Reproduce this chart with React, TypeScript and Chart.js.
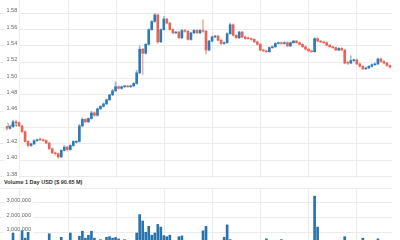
import React, { useEffect, useRef } from 'react';
import { Chart, registerables } from 'chart.js';

Chart.register(...registerables);

const opens = [
  1.441, 1.439, 1.441, 1.447, 1.446, 1.442, 1.435, 1.423, 1.418, 1.420,
  1.424, 1.426, 1.425, 1.424, 1.421, 1.414, 1.409, 1.408, 1.404, 1.412,
  1.416, 1.413, 1.418, 1.422, 1.423, 1.442, 1.450, 1.447, 1.451, 1.458,
  1.455, 1.463, 1.466, 1.469, 1.474, 1.480, 1.485, 1.490, 1.488, 1.490,
  1.491, 1.490, 1.491, 1.494, 1.507, 1.536, 1.531, 1.542, 1.560, 1.570,
  1.578, 1.545, 1.560, 1.573, 1.568, 1.560, 1.556, 1.557, 1.550, 1.559,
  1.558, 1.548, 1.556, 1.559, 1.556, 1.559, 1.558, 1.535, 1.546, 1.551,
  1.552, 1.547, 1.543, 1.544, 1.555, 1.566, 1.553, 1.550, 1.557, 1.551,
  1.550, 1.549, 1.548, 1.545, 1.542, 1.535, 1.534, 1.533, 1.538, 1.539,
  1.543, 1.544, 1.543, 1.544, 1.540, 1.544, 1.546, 1.544, 1.542, 1.539,
  1.536, 1.534, 1.533, 1.549, 1.546, 1.545, 1.544, 1.541, 1.539, 1.538,
  1.535, 1.537, 1.535, 1.520, 1.519, 1.522, 1.523, 1.518, 1.515, 1.512,
  1.513, 1.515, 1.517, 1.518, 1.524, 1.521, 1.519, 1.516,
];
const highs = [
  1.442, 1.443, 1.449, 1.449, 1.447, 1.443, 1.436, 1.424, 1.421, 1.425,
  1.426, 1.427, 1.426, 1.425, 1.422, 1.415, 1.410, 1.409, 1.413, 1.418,
  1.417, 1.419, 1.424, 1.424, 1.444, 1.452, 1.451, 1.452, 1.460, 1.459,
  1.464, 1.467, 1.470, 1.475, 1.481, 1.487, 1.496, 1.491, 1.491, 1.492,
  1.492, 1.492, 1.495, 1.510, 1.540, 1.537, 1.543, 1.561, 1.571, 1.580,
  1.579, 1.561, 1.576, 1.574, 1.569, 1.561, 1.558, 1.558, 1.560, 1.560,
  1.559, 1.557, 1.560, 1.560, 1.560, 1.572, 1.559, 1.547, 1.552, 1.553,
  1.553, 1.548, 1.545, 1.556, 1.568, 1.567, 1.554, 1.558, 1.558, 1.552,
  1.551, 1.550, 1.549, 1.546, 1.543, 1.536, 1.535, 1.539, 1.540, 1.544,
  1.545, 1.545, 1.545, 1.545, 1.545, 1.547, 1.547, 1.545, 1.543, 1.540,
  1.537, 1.535, 1.550, 1.550, 1.547, 1.546, 1.545, 1.542, 1.540, 1.539,
  1.538, 1.538, 1.536, 1.521, 1.528, 1.524, 1.524, 1.519, 1.516, 1.514,
  1.516, 1.518, 1.519, 1.525, 1.525, 1.522, 1.520, 1.517,
];
const lows = [
  1.437, 1.438, 1.440, 1.445, 1.441, 1.434, 1.422, 1.416, 1.417, 1.419,
  1.423, 1.424, 1.423, 1.420, 1.413, 1.408, 1.406, 1.402, 1.403, 1.411,
  1.411, 1.412, 1.417, 1.421, 1.422, 1.441, 1.446, 1.446, 1.450, 1.454,
  1.454, 1.462, 1.465, 1.468, 1.473, 1.479, 1.484, 1.487, 1.487, 1.489,
  1.489, 1.489, 1.490, 1.493, 1.506, 1.505, 1.530, 1.541, 1.559, 1.569,
  1.543, 1.544, 1.559, 1.567, 1.559, 1.555, 1.555, 1.549, 1.549, 1.557,
  1.547, 1.547, 1.555, 1.555, 1.555, 1.557, 1.530, 1.534, 1.545, 1.550,
  1.546, 1.542, 1.542, 1.543, 1.554, 1.552, 1.549, 1.549, 1.550, 1.548,
  1.548, 1.547, 1.544, 1.541, 1.534, 1.533, 1.532, 1.532, 1.537, 1.538,
  1.542, 1.542, 1.542, 1.539, 1.539, 1.543, 1.543, 1.541, 1.538, 1.535,
  1.533, 1.532, 1.532, 1.545, 1.544, 1.543, 1.540, 1.538, 1.537, 1.534,
  1.534, 1.534, 1.518, 1.517, 1.518, 1.521, 1.517, 1.514, 1.511, 1.511,
  1.512, 1.514, 1.516, 1.517, 1.520, 1.518, 1.515, 1.513,
];
const closes = [
  1.439, 1.441, 1.447, 1.446, 1.442, 1.435, 1.423, 1.418, 1.420, 1.424,
  1.425, 1.425, 1.424, 1.421, 1.414, 1.409, 1.408, 1.404, 1.412, 1.416,
  1.413, 1.418, 1.423, 1.423, 1.442, 1.450, 1.447, 1.451, 1.458, 1.455,
  1.463, 1.466, 1.469, 1.474, 1.480, 1.485, 1.490, 1.488, 1.490, 1.491,
  1.490, 1.491, 1.494, 1.507, 1.536, 1.531, 1.542, 1.560, 1.570, 1.578,
  1.545, 1.560, 1.573, 1.568, 1.560, 1.556, 1.557, 1.550, 1.559, 1.558,
  1.548, 1.556, 1.559, 1.556, 1.559, 1.558, 1.535, 1.546, 1.551, 1.552,
  1.547, 1.543, 1.544, 1.555, 1.566, 1.553, 1.550, 1.557, 1.551, 1.549,
  1.549, 1.548, 1.545, 1.542, 1.535, 1.534, 1.533, 1.538, 1.539, 1.543,
  1.544, 1.543, 1.544, 1.540, 1.544, 1.546, 1.544, 1.542, 1.539, 1.536,
  1.534, 1.533, 1.549, 1.546, 1.545, 1.544, 1.541, 1.539, 1.538, 1.535,
  1.537, 1.535, 1.519, 1.519, 1.522, 1.523, 1.518, 1.515, 1.512, 1.513,
  1.515, 1.517, 1.518, 1.524, 1.521, 1.519, 1.516, 1.514,
];
const volumes = [
  350000, 400000, 950000, 300000, 250000, 1100000, 600000, 1000000, 300000, 200000,
  250000, 300000, 200000, 350000, 900000, 300000, 250000, 400000, 660000, 300000,
  200000, 950000, 300000, 250000, 730000, 1070000, 600000, 800000, 1070000, 600000,
  300000, 500000, 300000, 660000, 700000, 600000, 650000, 550000, 300000, 500000,
  300000, 250000, 400000, 950000, 2200000, 1760000, 1000000, 1400000, 800000, 950000,
  1530000, 1350000, 770000, 700000, 800000, 400000, 350000, 700000, 750000, 300000,
  350000, 250000, 300000, 200000, 300000, 1100000, 1400000, 400000, 300000, 250000,
  300000, 200000, 660000, 1500000, 500000, 300000, 250000, 300000, 200000, 250000,
  300000, 200000, 250000, 300000, 350000, 300000, 550000, 300000, 200000, 250000,
  300000, 500000, 200000, 250000, 300000, 200000, 250000, 300000, 200000, 300000,
  350000, 300000, 3450000, 1350000, 300000, 250000, 200000, 300000, 250000, 200000,
  300000, 350000, 700000, 400000, 300000, 250000, 300000, 350000, 600000, 300000,
  250000, 300000, 350000, 550000, 300000, 250000, 300000, 200000,
];

const priceTicks = [1.38, 1.4, 1.42, 1.44, 1.46, 1.48, 1.5, 1.52, 1.54, 1.56, 1.58];
const volumeTicks = [1000000, 2000000, 3000000, 4000000];
const hiddenVolumeTick = 4000000;
const gridTicks = [4.3, 20.25, 36.2, 52.15, 68.1, 84.05, 100.0, 115.95];
const X_MIN = -2.32;
const X_MAX = 127.67;
const PRICE_MIN = 1.37816;
const PRICE_MAX = 1.5963;
const VOLUME_MAX = 4000000;
const volumeTitle = 'Volume 1 Day USD ($ 90.65 M)';

const UP = '#2c7bb6';
const DOWN = '#e66455';
const UP_WICK = 'rgba(44,123,182,0.5)';
const DOWN_WICK = 'rgba(230,100,85,0.5)';
const VOL = '#2a72aa';
const GRID = '#ebebeb';
const FONT = { size: 5.5, family: "'Liberation Sans', Arial, sans-serif" };

function zeroPad(s: any) {
  s.width = 0;
  s.paddingTop = 0;
  s.paddingBottom = 0;
  s.paddingLeft = 0;
  s.paddingRight = 0;
}

function xScale() {
  return {
    type: 'linear' as const,
    min: X_MIN,
    max: X_MAX,
    offset: false,
    afterBuildTicks: (s: any) => {
      s.ticks = gridTicks.map((v) => ({ value: v }));
    },
    afterFit: (s: any) => {
      s.height = 0;
      s.paddingLeft = 0;
      s.paddingRight = 0;
      s.paddingTop = 0;
      s.paddingBottom = 0;
    },
    ticks: { display: false },
    grid: { color: GRID, drawTicks: false, offset: false },
    border: { display: false },
  };
}

function yTicks(extra: any) {
  return {
    mirror: true,
    padding: 6.5,
    labelOffset: -2.5,
    font: FONT,
    color: '#666',
    showLabelBackdrop: true,
    backdropColor: '#ffffff',
    backdropPadding: { top: 1, bottom: 1, left: 2, right: 2 },
    ...extra,
  };
}

export default function App() {
  const priceRef = useRef<HTMLCanvasElement>(null);
  const volRef = useRef<HTMLCanvasElement>(null);

  useEffect(() => {
    const idx = closes.map((_, i) => i);
    const isUp = (i: number) => closes[i] >= opens[i];
    const priceChart = new Chart(priceRef.current!, {
      type: 'bar',
      data: {
        datasets: [
          {
            data: idx.map((i) => ({ x: i, y: [lows[i], highs[i]] })) as any,
            backgroundColor: idx.map((i) => (isUp(i) ? UP_WICK : DOWN_WICK)),
            barThickness: 1,
            grouped: false,
            order: 2,
          },
          {
            data: idx.map((i) => ({ x: i, y: [opens[i], closes[i]] })) as any,
            backgroundColor: idx.map((i) => (isUp(i) ? UP : DOWN)),
            barThickness: 2,
            grouped: false,
            order: 1,
          },
        ],
      },
      options: {
        responsive: false,
        maintainAspectRatio: false,
        animation: false,
        layout: { padding: { left: 0, right: 8, top: 0, bottom: 0 } },
        plugins: { legend: { display: false }, tooltip: { enabled: false } },
        scales: {
          x: xScale() as any,
          y: {
            type: 'linear',
            min: PRICE_MIN,
            max: PRICE_MAX,
            afterBuildTicks: (s: any) => {
              s.ticks = priceTicks.map((v) => ({ value: v }));
            },
            afterFit: zeroPad,
            ticks: yTicks({ callback: (v: any) => Number(v).toFixed(2) }),
            grid: { color: GRID, drawTicks: false },
            border: { display: false },
          } as any,
        },
      },
    });

    const volChart = new Chart(volRef.current!, {
      type: 'bar',
      data: {
        datasets: [
          {
            data: idx.map((i) => ({ x: i, y: volumes[i] })) as any,
            backgroundColor: VOL,
            barThickness: 2,
            grouped: false,
          },
        ],
      },
      options: {
        responsive: false,
        maintainAspectRatio: false,
        animation: false,
        layout: { padding: { left: 0, right: 8, top: 10, bottom: 0 } },
        plugins: { legend: { display: false }, tooltip: { enabled: false } },
        scales: {
          x: xScale() as any,
          y: {
            type: 'linear',
            min: 0,
            max: VOLUME_MAX,
            afterBuildTicks: (s: any) => {
              s.ticks = volumeTicks.map((v) => ({ value: v }));
            },
            afterFit: zeroPad,
            ticks: yTicks({
              backdropColor: (ctx: any) =>
                ctx.tick && ctx.tick.value === hiddenVolumeTick ? 'rgba(0,0,0,0)' : '#ffffff',
              callback: (v: any) =>
                Number(v) === hiddenVolumeTick ? '' : Number(v).toLocaleString('en-US'),
            }),
            grid: { color: GRID, drawTicks: false },
            border: { display: false },
          } as any,
        },
      },
    });

    return () => {
      priceChart.destroy();
      volChart.destroy();
    };
  }, []);

  return (
    <div
      style={{
        position: 'fixed',
        top: 0,
        left: 0,
        width: 400,
        height: 240,
        overflow: 'hidden',
        background: '#ffffff',
      }}
    >
      <canvas
        ref={priceRef}
        width={400}
        height={178}
        style={{ position: 'absolute', top: 0, left: 0, width: 400, height: 178 }}
      />
      <div
        style={{
          position: 'absolute',
          top: 179,
          left: 4,
          font: "bold 5.5px 'Liberation Sans', Arial, sans-serif",
          lineHeight: '6px',
          color: '#333',
          whiteSpace: 'nowrap',
        }}
      >
        {volumeTitle}
      </div>
      <canvas
        ref={volRef}
        width={400}
        height={69}
        style={{ position: 'absolute', top: 178, left: 0, width: 400, height: 69 }}
      />
    </div>
  );
}
